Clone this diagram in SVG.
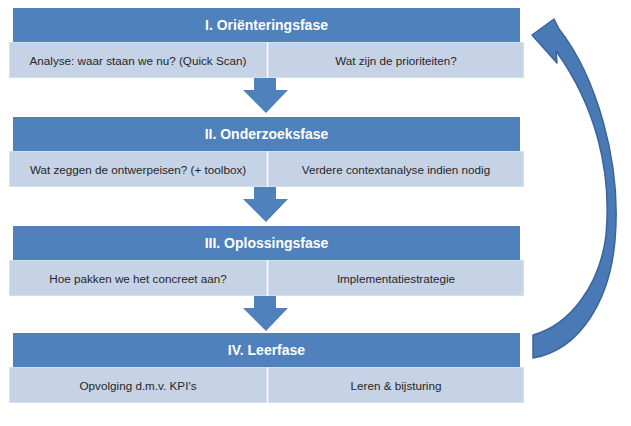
<svg xmlns="http://www.w3.org/2000/svg" width="631" height="426" viewBox="0 0 631 426">
<style>
.hdr{fill:#4f81bd}
.sub{fill:#c6d3e6;stroke:#d6dfec;stroke-width:1}
.ht{font-family:"Liberation Sans",Arial,sans-serif;font-weight:bold;font-size:14px;fill:#ffffff;text-anchor:middle}
.st{font-family:"Liberation Sans",Arial,sans-serif;font-size:11.7px;fill:#262626;text-anchor:middle}
.down{fill:#4f81bd}
</style>
<rect width="631" height="426" fill="#ffffff"/>
<g id="phase1">
<rect class="hdr" x="13" y="8" width="507" height="34"/>
<text class="ht" x="266.5" y="30">I. Oriënteringsfase</text>
<rect class="sub" x="9.5" y="42.5" width="257" height="35"/>
<rect class="sub" x="268.5" y="42.5" width="255" height="35"/>
<text class="st" x="138" y="64.5">Analyse: waar staan we nu? (Quick Scan)</text>
<text class="st" x="396" y="64.5">Wat zijn de prioriteiten?</text>
</g>
<g id="phase2">
<rect class="hdr" x="13" y="117" width="507" height="34"/>
<text class="ht" x="266.5" y="139">II. Onderzoeksfase</text>
<rect class="sub" x="9.5" y="151.5" width="257" height="35"/>
<rect class="sub" x="268.5" y="151.5" width="255" height="35"/>
<text class="st" x="138" y="173.5">Wat zeggen de ontwerpeisen? (+ toolbox)</text>
<text class="st" x="396" y="173.5">Verdere contextanalyse indien nodig</text>
</g>
<g id="phase3">
<rect class="hdr" x="13" y="226" width="507" height="34"/>
<text class="ht" x="266.5" y="248">III. Oplossingsfase</text>
<rect class="sub" x="9.5" y="260.5" width="257" height="35"/>
<rect class="sub" x="268.5" y="260.5" width="255" height="35"/>
<text class="st" x="138" y="282.5">Hoe pakken we het concreet aan?</text>
<text class="st" x="396" y="282.5">Implementatiestrategie</text>
</g>
<g id="phase4">
<rect class="hdr" x="13" y="333" width="507" height="34"/>
<text class="ht" x="266.5" y="355">IV. Leerfase</text>
<rect class="sub" x="9.5" y="367.5" width="257" height="35"/>
<rect class="sub" x="268.5" y="367.5" width="255" height="35"/>
<text class="st" x="138" y="389.5">Opvolging d.m.v. KPI's</text>
<text class="st" x="396" y="389.5">Leren &amp; bijsturing</text>
</g>
<g id="connectors">
<path class="down" d="M254,78 H276 V90 H288 L266,113 L243,90 H254 Z"/>
<path class="down" d="M254,187 H276 V199 H288 L266,222 L243,199 H254 Z"/>
<path class="down" d="M254,296 H276 V308 H288 L266,331 L243,308 H254 Z"/>
<path fill="#4a7ab6" stroke="#3b659a" stroke-width="1.5" stroke-linejoin="round" d="M532,35 L554,19 L559,29 C595,75 622,160 615,240 C610,300 580,350 533,358 L533,335 C570,325 600,285 606,235 C612,170 595,105 556,51 L557,63 Z"/>
</g>
</svg>
